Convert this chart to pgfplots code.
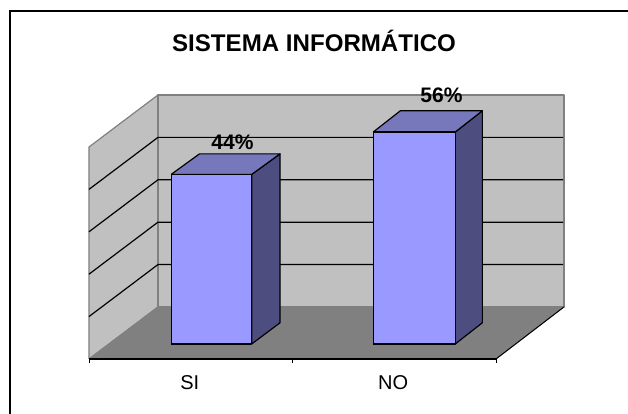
\documentclass[border=0pt]{standalone}
\usepackage{fontspec}
\setmainfont{Liberation Sans}
\usepackage{pgfplots}
\pgfplotsset{compat=1.18}
\definecolor{wallc}{HTML}{C0C0C0}
\definecolor{floorc}{HTML}{808080}
\definecolor{frontc}{HTML}{9999FF}
\definecolor{topc}{HTML}{7777BB}
\definecolor{sidec}{HTML}{4D4D80}
\begin{document}
\begin{tikzpicture}
\begin{axis}[
  scale only axis, width=407bp, height=264bp,
  xmin=0, xmax=2, ymin=-0.354, ymax=5.873,
  clip=false, axis on top,
  axis x line*=bottom, axis y line=none,
  xtick={0.495,1.495}, xticklabels={SI,NO},
  minor xtick={0,1,2},
  major tick length=0pt, minor tick length=4bp,
  tick align=outside,
  x axis line style={black,line width=1.3pt},
  minor tick style={black,line width=0.8pt},
  xticklabel style={font=\fontsize{20bp}{20bp}\selectfont, yshift=-13bp},
  every axis plot/.append style={no markers, line join=round},
]
% page extent and frame
\addplot[draw=none] coordinates {(-0.4373,8.113) (2.6487,-1.651)};
\addplot[draw=black, line width=2pt, overlay, line join=miter] coordinates
  {(-0.3883,-1.75) (-0.3883,7.854) (2.70,7.854)};
% left wall and back wall
\addplot[fill=wallc, draw=floorc, line width=1.2pt] coordinates
  {(0,-0.354) (0,4.646) (0.339,5.873) (0.339,0.873) (0,-0.354)};
\addplot[fill=wallc, draw=floorc, line width=1.2pt] coordinates
  {(0.339,0.873) (0.339,5.873) (2.334,5.873) (2.334,0.873) (0.339,0.873)};
% floor
\addplot[fill=floorc, draw=floorc, line width=0.8pt] coordinates
  {(0,-0.354) (0.339,0.873) (2.334,0.873) (2,-0.354) (0,-0.354)};
\addplot[black, line width=1pt] coordinates {(2,-0.354) (2.334,0.873)};
% gridlines (value 1 to 4)
\addplot[black, line width=1.2pt] coordinates {(0,0.646) (0.339,1.873) (2.33,1.873)};
\addplot[black, line width=1.2pt] coordinates {(0,1.646) (0.339,2.873) (2.33,2.873)};
\addplot[black, line width=1.2pt] coordinates {(0,2.646) (0.339,3.873) (2.33,3.873)};
\addplot[black, line width=1.2pt] coordinates {(0,3.646) (0.339,4.873) (2.33,4.873)};
% bar SI = 4
\addplot[fill=sidec, draw=black, line width=1.2pt] coordinates
  {(0.7995,0) (0.939,0.5) (0.939,4.484) (0.7995,4) (0.7995,0)};
\addplot[fill=topc, draw=black, line width=1.2pt] coordinates
  {(0.404,4) (0.543,4.484) (0.939,4.484) (0.7995,4) (0.404,4)};
\addplot[fill=frontc, draw=black, line width=1.2pt] coordinates
  {(0.404,0) (0.404,4) (0.7995,4) (0.7995,0) (0.404,0)};
% bar NO = 5
\addplot[fill=sidec, draw=black, line width=1.2pt] coordinates
  {(1.800,0) (1.933,0.5) (1.933,5.5) (1.800,5) (1.800,0)};
\addplot[fill=topc, draw=black, line width=1.2pt] coordinates
  {(1.397,5) (1.530,5.5) (1.933,5.5) (1.800,5) (1.397,5)};
\addplot[fill=frontc, draw=black, line width=1.2pt] coordinates
  {(1.397,0) (1.397,5) (1.800,5) (1.800,0) (1.397,0)};
% texts
\node[font=\fontsize{21bp}{21bp}\selectfont\bfseries, inner sep=0pt] at (axis cs:0.705,4.76) {44\%};
\node[font=\fontsize{21bp}{21bp}\selectfont\bfseries, inner sep=0pt] at (axis cs:1.732,5.866) {56\%};
\node[font=\fontsize{24.1bp}{24bp}\selectfont\bfseries, inner sep=0pt] at (axis cs:1.106,7.15) {SISTEMA INFORMÁTICO};
\end{axis}
\end{tikzpicture}
\end{document}
